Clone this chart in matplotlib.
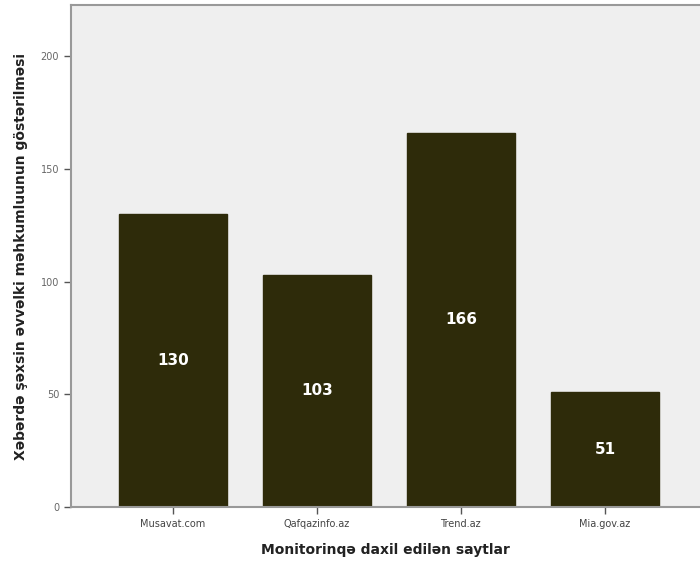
import matplotlib.pyplot as plt

# data
saytlar = ['Musavat.com', 'Qafqazinfo.az', 'Trend.az', 'Mia.gov.az']
sayi = [130, 103, 166, 51]
yticks = [0, 50, 100, 150, 200]

fig = plt.figure(figsize=(7, 5.63), dpi=100)
ax = fig.add_axes([0.1014, 0.0995, 0.8986, 0.8915])
ax.set_facecolor('#efefef')

x = list(range(len(saytlar)))
bars = ax.bar(x, sayi, width=0.75, color='#2e2b0a', edgecolor='#2e2b0a')

# deger etiketleri (barin ortasinda)
for xi, v in zip(x, sayi):
    ax.text(xi, v / 2, str(v), ha='center', va='center', color='white',
            fontsize=11, fontweight='bold')

ax.set_xlim(-0.706, 3.66)
ax.set_ylim(0, 222.6)
ax.set_xticks(x)
ax.set_xticklabels(saytlar, fontsize=7, color='#444444')
ax.set_yticks(yticks)
ax.set_yticklabels([str(t) for t in yticks], fontsize=7, color='#666666')
ax.tick_params(axis='both', color='#555555', length=5, width=1)

for s in ['left', 'bottom', 'top']:
    ax.spines[s].set_color('#999999')
    ax.spines[s].set_linewidth(1.5)
ax.spines['right'].set_visible(False)

ax.set_xlabel('Monitorinqə daxil edilən saytlar', fontsize=10, fontweight='bold',
              color='#222222', labelpad=10)
ax.set_ylabel('Xəbərdə şəxsin əvvəlki məhkumluunun göstərilməsi', fontsize=10,
              fontweight='bold', color='#222222', labelpad=9)

plt.savefig('out.png', dpi=100)
